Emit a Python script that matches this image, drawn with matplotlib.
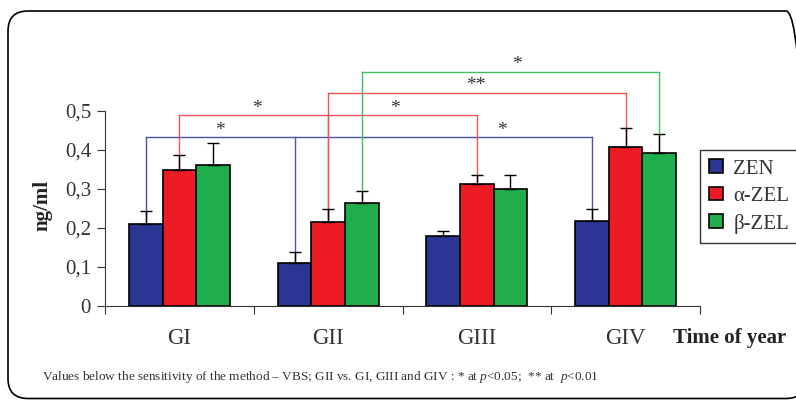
import numpy as np
import matplotlib
matplotlib.use("Agg")
import matplotlib.pyplot as plt
from matplotlib.patches import FancyBboxPatch
from matplotlib.transforms import Affine2D

plt.rcParams['font.family'] = ['Liberation Serif', 'DejaVu Serif']
plt.rcParams['mathtext.fontset'] = 'custom'
plt.rcParams['mathtext.rm'] = 'Liberation Serif'
plt.rcParams['mathtext.it'] = 'Liberation Serif:italic'

# data
groups = ["GI", "GII", "GIII", "GIV"]
series = ["ZEN", "α-ZEL", "β-ZEL"]
zen = [0.21, 0.109, 0.179, 0.219]
zen_err = [0.033, 0.029, 0.013, 0.030]
a_zel = [0.35, 0.216, 0.312, 0.407]
a_zel_err = [0.037, 0.034, 0.025, 0.050]
b_zel = [0.361, 0.263, 0.299, 0.392]
b_zel_err = [0.056, 0.033, 0.038, 0.048]
yticks = [0, 0.1, 0.2, 0.3, 0.4, 0.5]
ytick_labels = ["0", "0,1", "0,2", "0,3", "0,4", "0,5"]

# significance brackets: series index, groups joined, line level, star labels (x, text)
brackets = [
    (0, [0, 1, 3], 0.4325, [(0.27, "*"), (2.17, "*")]),
    (1, [0, 1, 2], 0.489, [(0.52, "*"), (1.45, "*")]),
    (1, [1, 3], 0.547, [(1.99, "**")]),
    (2, [1, 3], 0.601, [(2.27, "*")]),
]

colors = ["#2b3593", "#ed1c24", "#1fae4b"]
line_colors = ["#4a55a8", "#ef5558", "#3cc060"]

vals = [zen, a_zel, b_zel]
errs = [zen_err, a_zel_err, b_zel_err]

fig = plt.figure(figsize=(7.96, 4), dpi=100)
ax = fig.add_axes([105 / 796, 94 / 400, 595 / 796, 273 / 400])

x = np.arange(len(groups))
w = 0.226
offs = [-w, 0, w]
for i in range(3):
    ax.bar(x + offs[i], vals[i], w, color=colors[i], edgecolor="black",
           linewidth=1.2, label=series[i], zorder=3)
    ax.errorbar(x + offs[i], vals[i], yerr=[np.zeros(4), errs[i]], fmt="none",
                ecolor="black", elinewidth=1.0, capsize=4.5, capthick=1.0, zorder=4)

for s, gs, lev, labs in brackets:
    xs = [g + offs[s] for g in gs]
    ax.plot([xs[0], xs[-1]], [lev, lev], color=line_colors[s], lw=1.0, zorder=2)
    for g, xx in zip(gs, xs):
        ax.plot([xx, xx], [vals[s][g], lev], color=line_colors[s], lw=1.0, zorder=2)
    for lx, t in labs:
        ax.text(lx, lev - 0.004, t, ha="center", va="bottom", fontsize=14, color="#333333")

ax.set_xlim(-0.5, 3.5)
ax.set_ylim(0, 0.7)
ax.spines["top"].set_visible(False)
ax.spines["right"].set_visible(False)
ax.spines["left"].set_bounds(0, 0.5)
ax.spines["left"].set_color("#333333")
ax.spines["bottom"].set_color("#333333")
ax.set_yticks(yticks)
ax.set_yticklabels(ytick_labels, fontsize=15, color="#333333")
ax.set_xticks([-0.5, 0.5, 1.5, 2.5, 3.5])
ax.set_xticklabels([])
ax.tick_params(axis="both", direction="out", length=6, color="#333333")
ax.tick_params(axis="y", pad=4)
ax.patch.set_visible(False)
for g, lab in zip(x, groups):
    ax.text(g, -0.083, lab, ha="center", va="center", fontsize=16.5, color="#333333")

fig.text(730 / 796, 1 - 338 / 400, "Time of year", ha="center", va="center",
         fontsize=15, fontweight="bold", color="#222222")
fig.text(42 / 796, 1 - 205 / 400, "ng/ml", ha="center", va="center", rotation=90,
         fontsize=15, fontweight="bold", color="#222222")
fig.text(42 / 796, 1 - 377 / 400,
         r"Values below the sensitivity of the method – VBS; GII vs. GI, GIII and GIV : * at $\mathit{p}$<0.05;  ** at  $\mathit{p}$<0.01",
         ha="left", va="center", fontsize=9.5, color="#333333")

leg = ax.legend(loc="upper left", bbox_to_anchor=(700 / 796, 1 - 150 / 400),
                bbox_transform=fig.transFigure, fontsize=15, frameon=True,
                fancybox=False, edgecolor="black", handlelength=0.65, handleheight=0.65,
                handletextpad=0.5, labelspacing=0.38, borderpad=0.45, borderaxespad=0)
leg.get_frame().set_linewidth(1.0)
for t in leg.get_texts():
    t.set_color("#333333")

# rounded outer border, drawn in pixel units
px = Affine2D().scale(1 / 796, 1 / 400) + fig.transFigure
frame = FancyBboxPatch((8, 1.5), 798, 387.5,
                       boxstyle="round,pad=0,rounding_size=20",
                       transform=px, fill=False, edgecolor="black", linewidth=1.2)
fig.patches.append(frame)

fig.savefig("out.png", dpi=100)
